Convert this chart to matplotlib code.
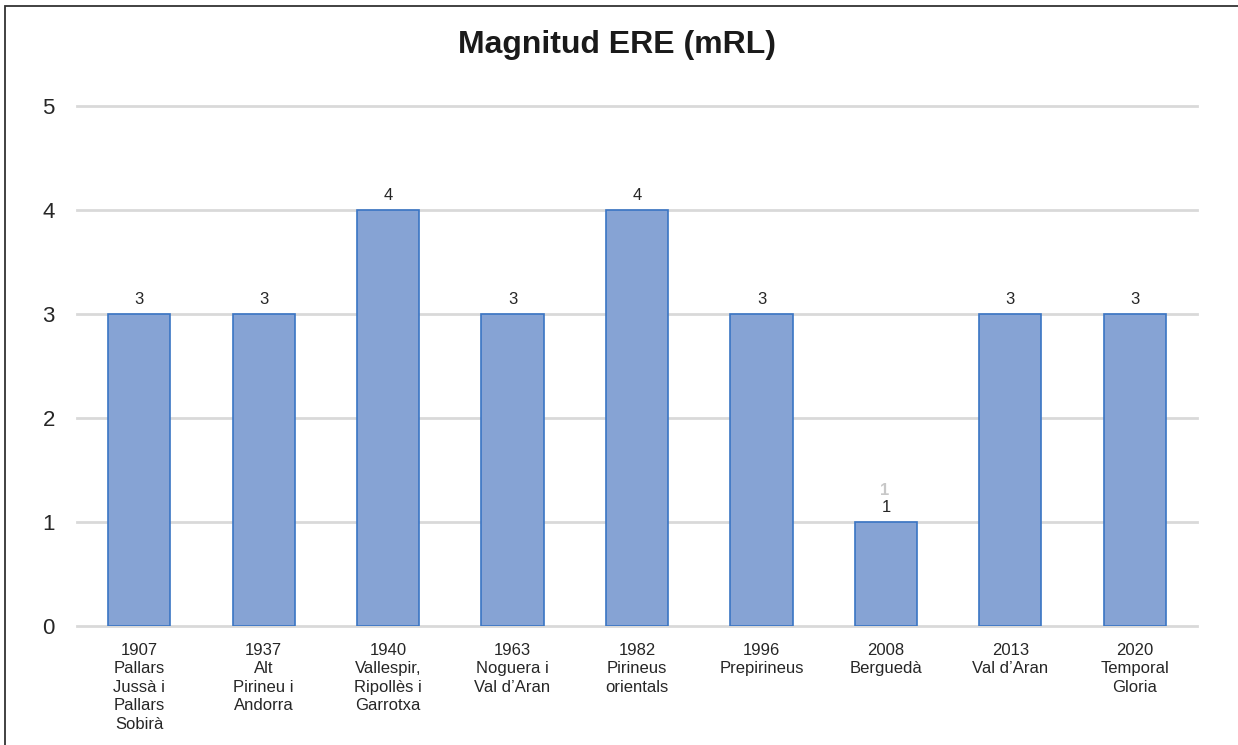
import matplotlib.pyplot as plt
from matplotlib.patches import Rectangle

plt.rcParams['font.family'] = ['Liberation Sans', 'DejaVu Sans']

# dades
categories = ['1907\nPallars\nJussà i\nPallars\nSobirà',
              '1937\nAlt\nPirineu i\nAndorra',
              '1940\nVallespir,\nRipollès i\nGarrotxa',
              '1963\nNoguera i\nVal d’Aran',
              '1982\nPirineus\norientals',
              '1996\nPrepirineus',
              '2008\nBerguedà',
              '2013\nVal d’Aran',
              '2020\nTemporal\nGloria']
magnitud = [3, 3, 4, 3, 4, 3, 1, 3, 3]
yticks = [0, 1, 2, 3, 4, 5]

fig = plt.figure(figsize=(12.38, 7.45), dpi=100)
ax = fig.add_axes([77 / 1238, 1 - 626 / 745, 1120 / 1238, 520 / 745])

# marc exterior (retallat a dreta i a baix)
fig.patches.append(Rectangle((5 / 1238, -0.1), 1.2, 1 - 6 / 745 + 0.1,
                             transform=fig.transFigure, fill=False,
                             edgecolor='#333333', linewidth=1.3))

x = range(len(magnitud))
bars = ax.bar(x, magnitud, width=0.5, color='#86A3D4', edgecolor='#3A75C4',
              linewidth=1.2, zorder=3)

for xi, v in zip(x, magnitud):
    ax.annotate(str(v), (xi, v), xytext=(0, 5), textcoords='offset points',
                ha='center', va='bottom', fontsize=12, color='#262626')

# "1" fantasma gris sobre Berguedà
ax.annotate(str(magnitud[6]), (6, magnitud[6]), xytext=(-1, 17),
            textcoords='offset points', ha='center', va='bottom',
            fontsize=12, color='#c8c8c8', fontweight='bold', zorder=1)

ax.set_xlim(-0.5, len(magnitud) - 0.5)
ax.set_ylim(0, 5)
ax.set_yticks(yticks)
ax.set_yticklabels([str(t) for t in yticks], fontsize=16, color='#262626')
ax.set_xticks(list(x))
ax.set_xticklabels(categories, fontsize=12, color='#262626', linespacing=1.3)
ax.tick_params(axis='both', length=0)
ax.tick_params(axis='y', pad=16)
ax.tick_params(axis='x', pad=12)

ax.yaxis.grid(True, color='#d9d9d9', linewidth=2, zorder=0)
ax.set_axisbelow(True)
for line in ax.get_ygridlines():
    line.set_clip_on(False)
for s in ax.spines.values():
    s.set_visible(False)

fig.text(617 / 1238, 1 - 45 / 745, 'Magnitud ERE (mRL)', ha='center', va='center',
         fontsize=23, fontweight='bold', color='#1a1a1a')

fig.savefig('out.png', dpi=100)
